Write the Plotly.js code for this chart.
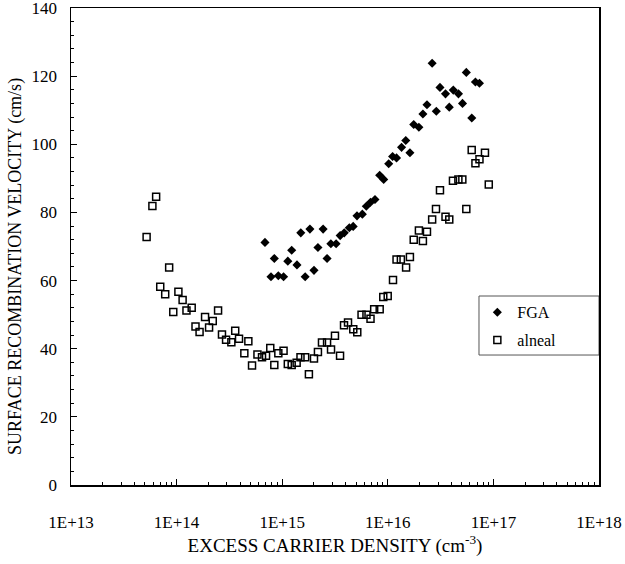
<!DOCTYPE html>
<html>
<head>
<meta charset="utf-8">
<script src="https://cdn.plot.ly/plotly-3.0.1.min.js"></script>
<style>html,body{margin:0;padding:0;background:#fff;}#chart{width:625px;height:564px;}</style>
</head>
<body>
<div id="chart"></div>
<script>
// FGA series (excess carrier density, cm^-3 ; surface recombination velocity, cm/s)
const fgaDensity = [6.87e14, 7.83e14, 8.42e14, 9.19e14, 1.03e15, 1.13e15, 1.23e15, 1.38e15, 1.50e15, 1.65e15,
  1.83e15, 2.00e15, 2.18e15, 2.44e15, 2.66e15, 2.89e15, 3.24e15, 3.54e15, 3.87e15, 4.32e15,
  4.70e15, 5.11e15, 5.74e15, 6.26e15, 6.86e15, 7.56e15, 8.38e15, 9.14e15, 1.02e16, 1.11e16,
  1.21e16, 1.35e16, 1.48e16, 1.62e16, 1.76e16, 1.97e16, 2.15e16, 2.35e16, 2.63e16, 2.88e16,
  3.12e16, 3.52e16, 3.82e16, 4.17e16, 4.67e16, 5.10e16, 5.54e16, 6.24e16, 6.76e16, 7.38e16];
const fgaVelocity = [71.2, 61.1, 66.5, 61.4, 61.1, 65.7, 68.9, 64.6, 74.0, 61.1,
  75.1, 63.0, 69.7, 75.1, 66.5, 70.8, 70.8, 73.2, 74.0, 75.5,
  75.9, 79.0, 79.5, 81.8, 83.0, 83.8, 90.9, 89.7, 94.3, 96.4,
  96.0, 99.1, 101.1, 97.5, 105.8, 105.0, 108.9, 111.6, 123.8, 109.7,
  116.7, 114.8, 110.9, 115.9, 114.8, 112.0, 121.1, 107.7, 118.3, 117.9];

// alneal series
const alnealDensity = [5.2e13, 5.9e13, 6.4e13, 7.0e13, 7.8e13, 8.5e13, 9.3e13, 1.04e14, 1.14e14, 1.24e14,
  1.39e14, 1.51e14, 1.65e14, 1.86e14, 2.03e14, 2.20e14, 2.47e14, 2.69e14, 2.94e14, 3.30e14,
  3.59e14, 3.90e14, 4.38e14, 4.78e14, 5.18e14, 5.83e14, 6.44e14, 7.03e14, 7.71e14, 8.42e14,
  9.19e14, 1.03e15, 1.13e15, 1.23e15, 1.37e15, 1.49e15, 1.65e15, 1.79e15, 2.00e15, 2.18e15,
  2.38e15, 2.66e15, 2.90e15, 3.16e15, 3.53e15, 3.85e15, 4.20e15, 4.71e15, 5.14e15, 5.64e15,
  6.28e15, 6.86e15, 7.43e15, 8.38e15, 9.06e15, 9.98e15, 1.12e16, 1.21e16, 1.33e16, 1.49e16,
  1.62e16, 1.76e16, 1.97e16, 2.15e16, 2.35e16, 2.63e16, 2.86e16, 3.12e16, 3.52e16, 3.82e16,
  4.14e16, 4.66e16, 5.08e16, 5.54e16, 6.23e16, 6.76e16, 7.38e16, 8.32e16, 9.04e16];
const alnealVelocity = [72.8, 81.9, 84.6, 58.2, 56.0, 63.8, 50.8, 56.7, 54.3, 51.2,
  52.0, 46.5, 44.9, 49.3, 46.2, 48.1, 51.2, 44.2, 42.6, 41.9,
  45.3, 42.9, 38.7, 42.2, 35.1, 38.3, 37.5, 37.9, 40.2, 35.2,
  38.7, 39.4, 35.5, 35.2, 35.9, 37.5, 37.5, 32.5, 37.1, 39.0,
  41.8, 41.8, 39.8, 43.8, 37.9, 46.9, 47.7, 45.7, 44.8, 50.0,
  50.0, 48.8, 51.6, 51.6, 55.2, 55.5, 60.2, 66.2, 66.2, 63.8,
  66.9, 72.0, 74.7, 71.6, 74.3, 77.9, 81.0, 86.5, 78.7, 77.9,
  89.3, 89.7, 89.7, 81.0, 98.3, 94.4, 95.6, 97.5, 88.2];

const xTickVals = [1e13, 1e14, 1e15, 1e16, 1e17, 1e18];
const xTickText = ['1E+13', '1E+14', '1E+15', '1E+16', '1E+17', '1E+18'];
const yTickVals = [0, 20, 40, 60, 80, 100, 120, 140];
const xTitle = 'EXCESS CARRIER DENSITY (cm<sup>-3</sup>)';
const yTitle = 'SURFACE RECOMBINATION VELOCITY (cm/s)';

const serif = 'Liberation Serif, Times New Roman, serif';

const traces = [
  {
    x: fgaDensity, y: fgaVelocity, name: 'FGA', type: 'scatter', mode: 'markers',
    legendgroup: 'a',
    marker: {symbol: 'diamond', size: 7, color: '#000000', line: {width: 0}}
  },
  {
    x: alnealDensity, y: alnealVelocity, name: 'alneal', type: 'scatter', mode: 'markers',
    legendgroup: 'b',
    marker: {symbol: 'square-open', size: 7, color: '#000000', line: {width: 1.5, color: '#000000'}}
  }
];

const layout = {
  width: 625, height: 564,
  margin: {l: 71, r: 26, t: 8, b: 79, pad: 0},
  paper_bgcolor: '#ffffff', plot_bgcolor: '#ffffff',
  font: {family: serif, size: 17, color: '#000000'},
  showlegend: true,
  legend: {
    x: 0.7696, y: 0.3977, xanchor: 'left', yanchor: 'top',
    bgcolor: 'rgba(0,0,0,0)', borderwidth: 0,
    font: {family: serif, size: 16, color: '#000000'},
    traceorder: 'grouped', tracegroupgap: 4
  },
  shapes: [
    {type: 'rect', xref: 'paper', yref: 'paper', x0: 0.7727, x1: 1.0, y0: 0.2725, y1: 0.3962,
     line: {color: '#555555', width: 1}, fillcolor: '#ffffff', layer: 'below'}
  ],
  annotations: [
    {text: yTitle, xref: 'paper', yref: 'paper', x: -0.106, y: 0.457, xanchor: 'center', yanchor: 'middle',
     textangle: -90, showarrow: false, font: {family: serif, size: 18, color: '#000000'}}
  ],
  xaxis: {
    type: 'log',
    range: [13, 18],
    tickmode: 'array', tickvals: xTickVals, ticktext: xTickText,
    ticks: 'inside', ticklen: 6, tickwidth: 1, tickcolor: '#000000',
    minor: {ticks: 'inside', ticklen: 3, tickwidth: 1, tickcolor: '#000000', dtick: 'D1', showgrid: false},
    showline: true, linecolor: '#000000', linewidth: 1.5, mirror: true,
    showgrid: false, zeroline: false,
    ticklabelstandoff: 21, ticklabeloverflow: 'allow',
    tickfont: {family: serif, size: 17, color: '#000000'},
    title: {text: xTitle, font: {family: serif, size: 19, color: '#000000'}, standoff: 6}
  },
  yaxis: {
    range: [0, 140],
    tickmode: 'array', tickvals: yTickVals,
    ticks: 'inside', ticklen: 6, tickwidth: 1, tickcolor: '#000000',
    minor: {ticks: 'inside', ticklen: 3, tickwidth: 1, tickcolor: '#000000', dtick: 4, showgrid: false},
    showline: true, linecolor: '#000000', linewidth: 1.5, mirror: true,
    showgrid: false, zeroline: false,
    ticklabelstandoff: 9, ticklabeloverflow: 'allow',
    tickfont: {family: serif, size: 17, color: '#000000'}
  }
};

Plotly.newPlot('chart', traces, layout, {displayModeBar: false, staticPlot: true});
</script>
</body>
</html>
